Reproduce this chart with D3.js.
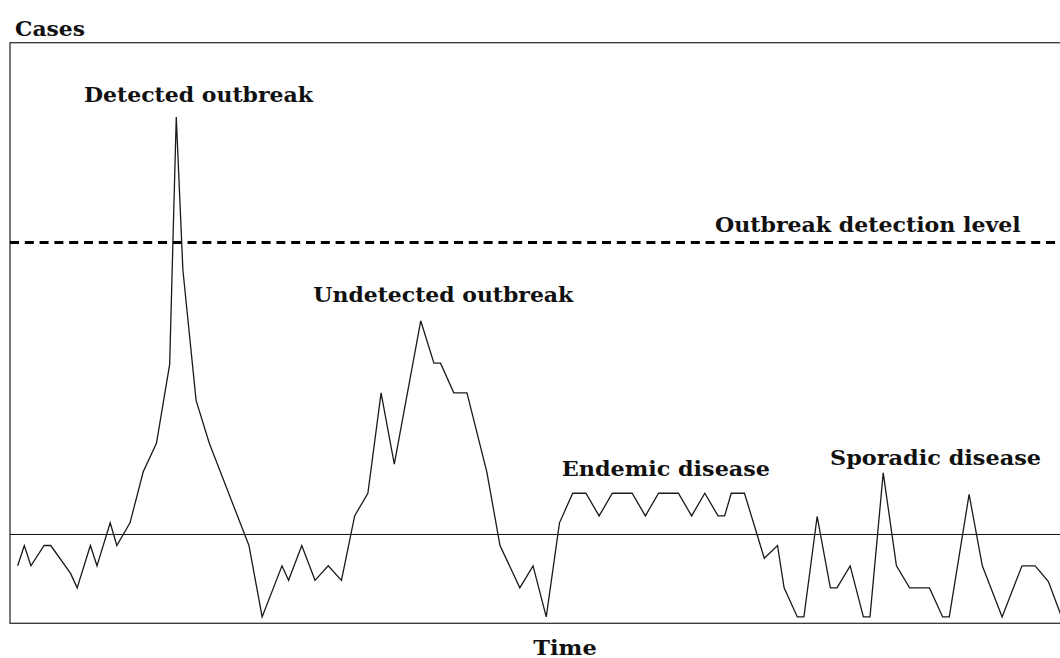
<!DOCTYPE html>
<html>
<head>
<meta charset="utf-8">
<script src="https://cdn.jsdelivr.net/npm/d3@7"></script>
<style>
  html, body { margin: 0; padding: 0; background: #fff; }
  svg { display: block; }
  .lbl { font-family: Georgia, "DejaVu Serif", serif; font-weight: bold; fill: #111; }
</style>
</head>
<body>
<svg id="chart" width="1060" height="658"></svg>
<script>
// Time index of each vertex (regular sampling, collinear points omitted)
const time = [0,1,2,4,5,8,9,11,12,14,15,17,19,21,23,24,25,27,29,35,37,40,41,43,45,47,49,51,53,55,57,61,63,64,66,68,71,73,76,78,80,82,84,86,88,90,93,95,97,100,102,104,106,107,108,110,113,115,116,118,119,121,123,124,126,128,129,131,133,135,138,140,141,144,146,149,152,154,156,158];
// Cases (arbitrary units, 0-100 scale)
const cases = [9.9,13.4,9.9,13.4,13.4,8.6,6.1,13.4,9.9,17.3,13.4,17.3,26.1,31.0,44.6,87.2,60.9,38.4,31.0,13.4,1.1,9.9,7.4,13.4,7.4,9.9,7.4,18.5,22.4,39.7,27.4,52.1,44.8,44.8,39.7,39.7,26.1,13.4,6.1,9.9,1.1,17.3,22.4,22.4,18.5,22.4,22.4,18.5,22.4,22.4,18.5,22.4,18.5,18.5,22.4,22.4,11.2,13.4,6.1,1.1,1.1,18.4,6.1,6.1,9.9,1.1,1.1,25.9,9.9,6.1,6.1,1.1,1.1,22.2,9.9,1.1,9.9,9.9,7.2,1.1];
const baselineLevel = [15.3];
const detectionLevel = [65.6];
const axisLabels = ["Cases", "Time"];
const annotations = ["Detected outbreak", "Undetected outbreak", "Endemic disease", "Sporadic disease", "Outbreak detection level"];

const svg = d3.select("#chart");
const x = d3.scaleLinear().domain([0, 158]).range([17.7, 1061.6]);
const y = d3.scaleLinear().domain([0, 100]).range([623.3, 42.7]);
const plotLeft = 10, plotRight = 1064;

// frame
svg.append("rect")
  .attr("x", plotLeft).attr("y", y(100))
  .attr("width", plotRight - plotLeft).attr("height", y(0) - y(100))
  .attr("fill", "none").attr("stroke", "#333").attr("stroke-width", 1.3);

// baseline
svg.selectAll(".base").data(baselineLevel).join("line")
  .attr("x1", plotLeft).attr("x2", plotRight)
  .attr("y1", d => y(d)).attr("y2", d => y(d))
  .attr("stroke", "#111").attr("stroke-width", 1);

// detection level dashed
svg.selectAll(".det").data(detectionLevel).join("line")
  .attr("x1", plotLeft).attr("x2", plotRight)
  .attr("y1", d => y(d)).attr("y2", d => y(d))
  .attr("stroke", "#000").attr("stroke-width", 3)
  .attr("stroke-dasharray", "9,5.8");

// data line
const pts = time.map((t, i) => [t, cases[i]]);
svg.append("path")
  .datum(pts)
  .attr("d", d3.line().x(d => x(d[0])).y(d => y(d[1])))
  .attr("fill", "none").attr("stroke", "#1a1a1a").attr("stroke-width", 1.3)
  .attr("stroke-linejoin", "miter");

// labels
const labelSpecs = [
  {t: axisLabels[0], x: 15, y: 36, w: 70},
  {t: axisLabels[1], x: 533.3, y: 654.5, w: 63.4},
  {t: annotations[0], x: 84, y: 101.7, w: 229},
  {t: annotations[1], x: 313.3, y: 301.7, w: 260},
  {t: annotations[2], x: 561.7, y: 475.7, w: 208.3},
  {t: annotations[3], x: 830, y: 465, w: 211},
  {t: annotations[4], x: 715, y: 232.3, w: 305.7}
];
svg.selectAll("text.lbl").data(labelSpecs).join("text")
  .attr("class", "lbl")
  .attr("x", d => d.x).attr("y", d => d.y)
  .attr("font-size", 21)
  .attr("textLength", d => d.w)
  .attr("lengthAdjust", "spacingAndGlyphs")
  .text(d => d.t);
</script>
</body>
</html>
